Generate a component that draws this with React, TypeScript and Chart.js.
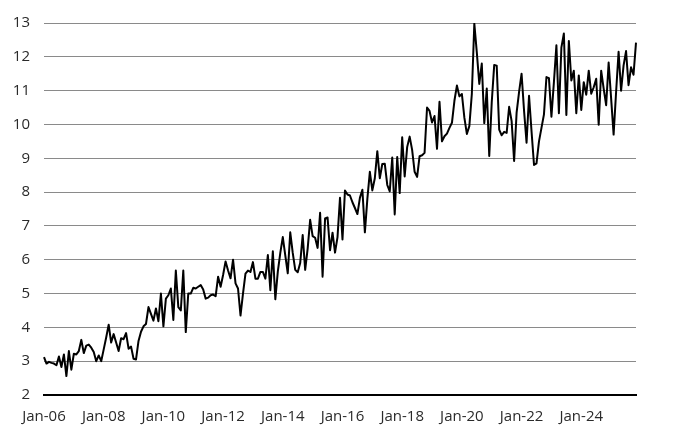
import React, { useEffect, useRef } from "react";
import { Chart, registerables } from "chart.js";

Chart.register(...registerables);

// Monthly values, Jan-06 .. Nov-25
const values2006to2009: number[] = [
  3.12, 2.93, 2.98, 2.95, 2.93, 2.88, 3.14, 2.83, 3.2, 2.56, 3.3, 2.75,
  3.22, 3.2, 3.3, 3.63, 3.24, 3.46, 3.49, 3.4, 3.27, 3.0, 3.17, 3.0,
  3.35, 3.7, 4.08, 3.55, 3.8, 3.55, 3.3, 3.68, 3.65, 3.83, 3.37, 3.43,
  3.07, 3.05, 3.6, 3.87, 4.03, 4.1, 4.6, 4.4, 4.2, 4.56, 4.18, 5.0,
];
const values2010to2013: number[] = [
  4.03, 4.85, 4.95, 5.15, 4.22, 5.68, 4.6, 4.5, 5.68, 3.86, 5.0, 5.0,
  5.17, 5.15, 5.2, 5.25, 5.12, 4.85, 4.88, 4.95, 4.97, 4.92, 5.5, 5.2,
  5.55, 5.95, 5.68, 5.45, 6.0, 5.3, 5.15, 4.35, 5.0, 5.59, 5.68, 5.64,
  5.93, 5.44, 5.44, 5.64, 5.64, 5.44, 6.14, 5.1, 6.25, 4.83, 5.65, 6.2,
];
const values2014to2017: number[] = [
  6.67, 6.13, 5.6, 6.81, 6.2, 5.7, 5.63, 5.9, 6.73, 5.7, 6.33, 7.18,
  6.7, 6.65, 6.35, 7.39, 5.5, 7.22, 7.25, 6.28, 6.8, 6.21, 6.67, 7.83,
  6.6, 8.05, 7.93, 7.9, 7.7, 7.53, 7.35, 7.83, 8.07, 6.81, 7.8, 8.6,
  8.05, 8.41, 9.21, 8.41, 8.83, 8.84, 8.21, 8.02, 9.02, 7.34, 9.04, 7.97,
];
const values2018to2021: number[] = [
  9.62, 8.46, 9.33, 9.64, 9.25, 8.6, 8.45, 9.06, 9.09, 9.16, 10.5, 10.4,
  10.06, 10.25, 9.28, 10.67, 9.5, 9.65, 9.73, 9.9, 10.05, 10.7, 11.15, 10.83,
  10.9, 10.2, 9.72, 9.95, 10.9, 12.98, 12.13, 11.2, 11.8, 10.04, 11.06, 9.07,
  10.65, 11.76, 11.74, 9.85, 9.68, 9.78, 9.75, 10.52, 10.1, 8.92, 10.35, 10.96,
];
const values2022to2025: number[] = [
  11.5, 10.4, 9.46, 10.85, 9.8, 8.8, 8.85, 9.5, 9.9, 10.3, 11.4, 11.37,
  10.23, 11.25, 12.34, 10.33, 12.27, 12.69, 10.28, 12.47, 11.3, 11.59, 10.33, 11.45,
  10.43, 11.25, 10.88, 11.59, 10.91, 11.1, 11.35, 9.99, 11.59, 11.06, 10.57, 11.83,
  10.77, 9.7, 10.96, 12.15, 11.0, 11.74, 12.17, 11.16, 11.69, 11.47, 12.42,
];

const SERIES: number[] = [
  ...values2006to2009,
  ...values2010to2013,
  ...values2014to2017,
  ...values2018to2021,
  ...values2022to2025,
];

const MONTHS = ["Jan", "Feb", "Mar", "Apr", "May", "Jun", "Jul", "Aug", "Sep", "Oct", "Nov", "Dec"];
const START_YEAR = 2006;
const CATEGORIES: string[] = SERIES.map((_, i) => {
  const y = START_YEAR + Math.floor(i / 12);
  return `${MONTHS[i % 12]}-${String(y % 100).padStart(2, "0")}`;
});
const TICK_LABELS = ["Jan-06", "Jan-08", "Jan-10", "Jan-12", "Jan-14", "Jan-16", "Jan-18", "Jan-20", "Jan-22", "Jan-24"];
const Y_MIN = 2;
const Y_MAX = 13;

export default function App() {
  const ref = useRef<HTMLCanvasElement | null>(null);

  useEffect(() => {
    if (!ref.current) return;
    const font = { family: "'Open Sans', 'Noto Sans', sans-serif", size: 15 };
    const chart = new Chart(ref.current, {
      type: "line",
      data: {
        labels: CATEGORIES,
        datasets: [
          {
            data: SERIES,
            borderColor: "#000000",
            borderWidth: 2,
            pointRadius: 0,
            tension: 0,
            fill: false,
            borderJoinStyle: "round",
          },
        ],
      },
      options: {
        responsive: false,
        animation: false,
        devicePixelRatio: 1,
        layout: { padding: { left: 0, right: 44, top: 17, bottom: 0 } },
        plugins: { legend: { display: false }, tooltip: { enabled: false } },
        scales: {
          x: {
            type: "category",
            offset: false,
            grid: { display: false, drawTicks: false },
            border: { display: true, color: "#000000", width: 2 },
            ticks: {
              autoSkip: false,
              maxRotation: 0,
              minRotation: 0,
              padding: 13,
              color: "#2a2a2a",
              font,
              callback: (_v: any, i: number) => {
                const lab = CATEGORIES[i];
                return TICK_LABELS.includes(lab) ? lab : null;
              },
            },
            afterFit: (s: any) => {
              s.height = 43;
            },
          },
          y: {
            min: Y_MIN,
            max: Y_MAX,
            grid: {
              drawTicks: false,
              color: (ctx: any) => (ctx.tick && ctx.tick.value === Y_MIN ? "rgba(0,0,0,0)" : "#8a8a8a"),
              lineWidth: 1,
            },
            border: { display: false },
            ticks: { stepSize: 1, padding: 14, color: "#2a2a2a", font },
            afterFit: (s: any) => {
              s.width = 44;
            },
          },
        },
      },
    });
    return () => chart.destroy();
  }, []);

  return (
    <div style={{ position: "fixed", left: 0, top: 0, width: 680, height: 438, background: "#fff" }}>
      <canvas ref={ref} width={680} height={438} />
    </div>
  );
}
